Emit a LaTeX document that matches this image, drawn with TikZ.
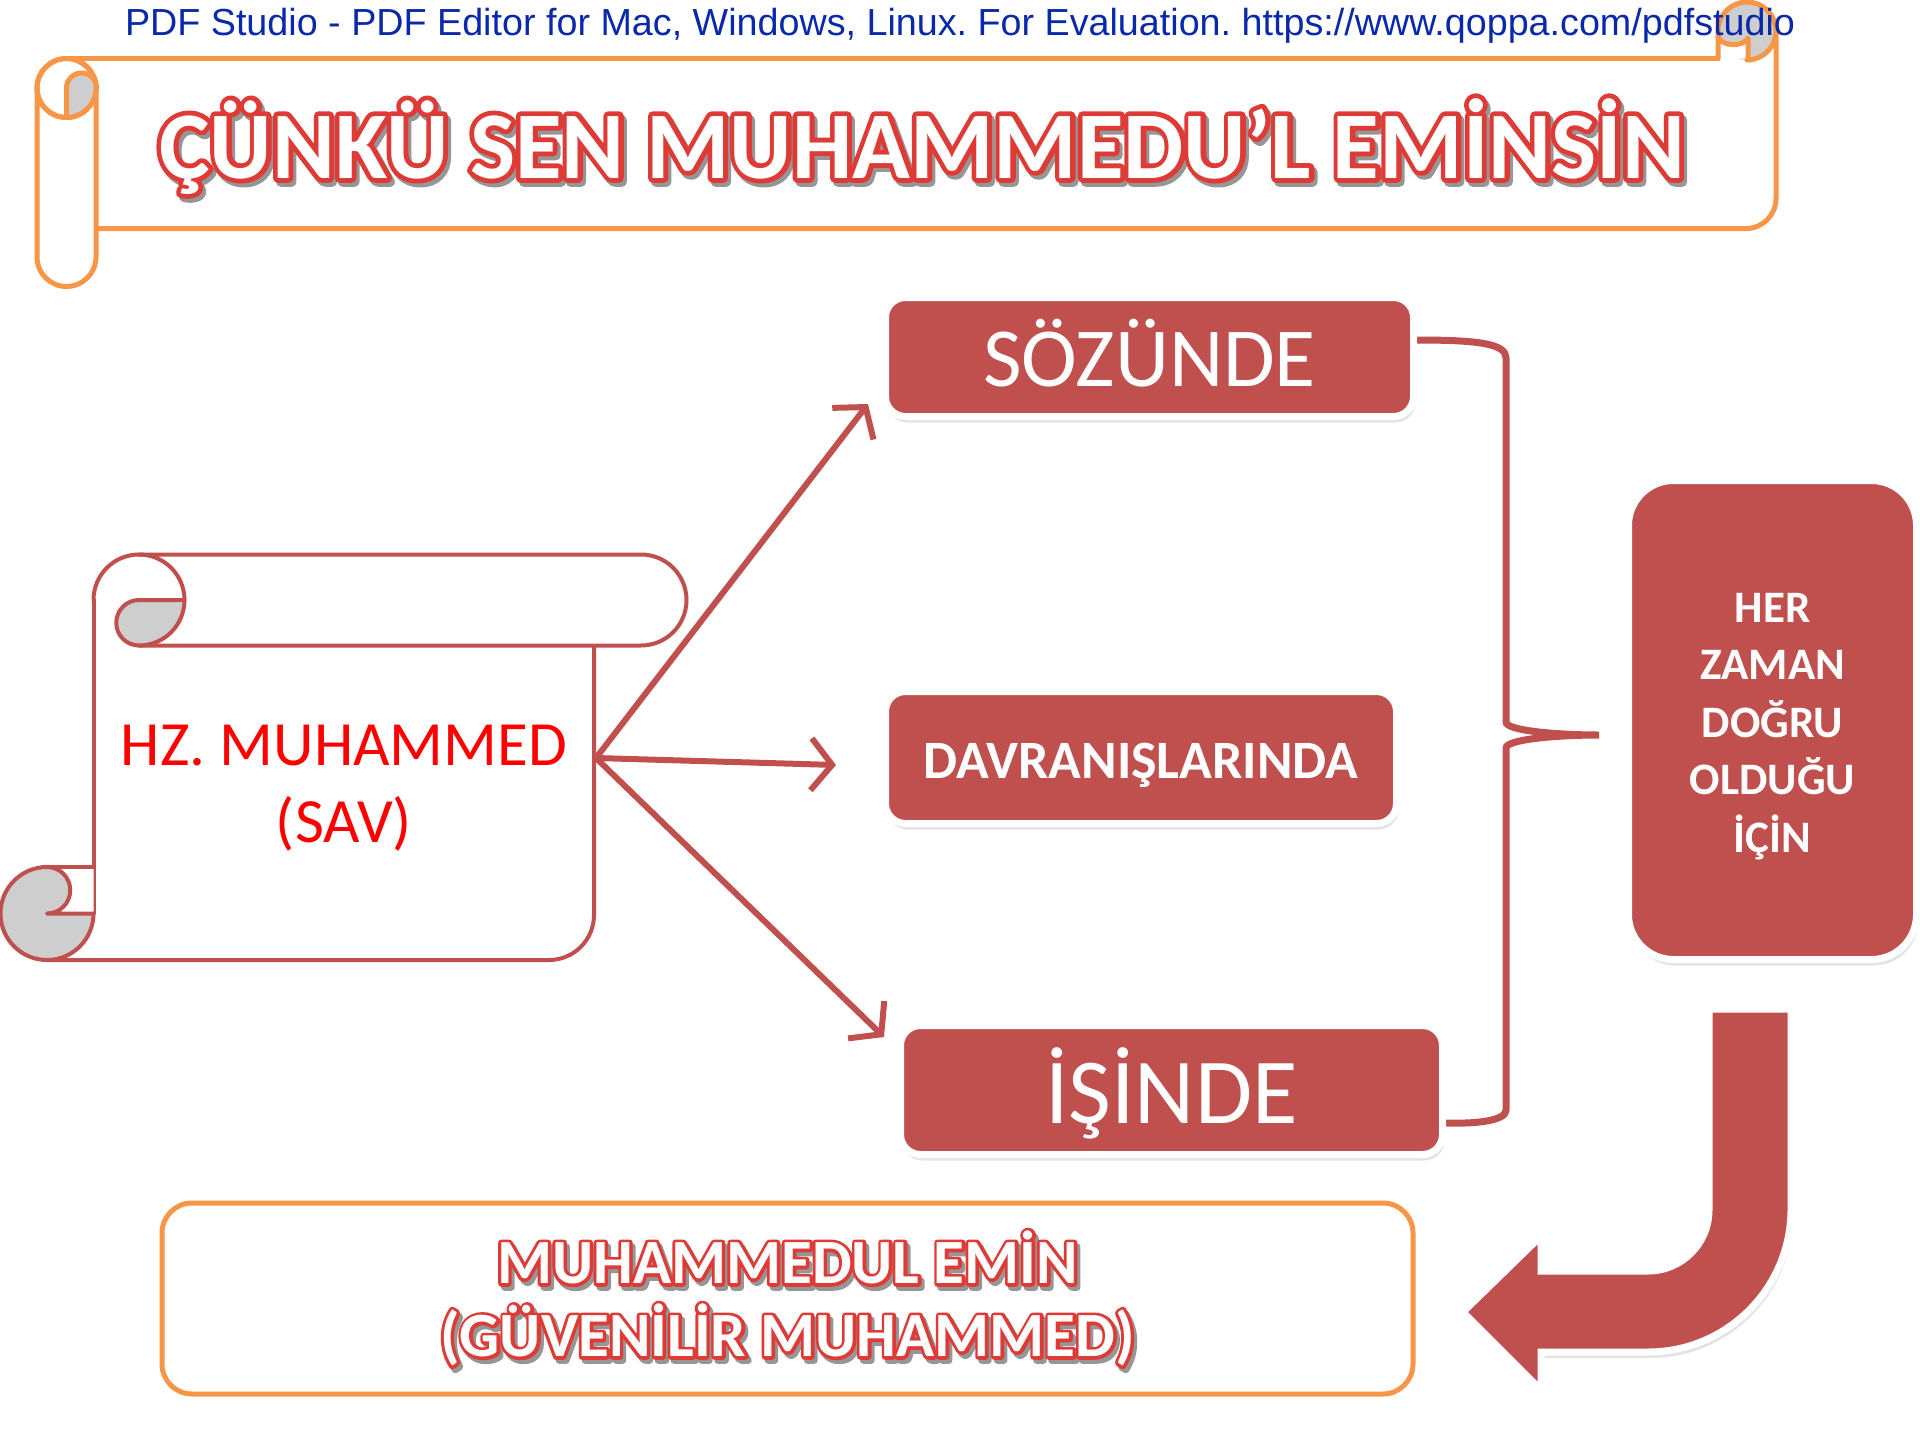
\documentclass[tikz,border=0pt]{standalone}
\usepackage{fontspec}
\setmainfont{Carlito}
\newfontfamily\wmfont{Liberation Sans}
\newfontfamily\cbfont{Carlito Bold}
\newfontfamily\cbfat{Carlito Bold}[FakeBold=10]
\usetikzlibrary{arrows.meta,shadows,calc}
\definecolor{boxred}{RGB}{192,80,77}
\definecolor{orangeline}{RGB}{247,150,70}
\definecolor{curlgrey}{RGB}{206,206,206}
\definecolor{olred}{RGB}{222,58,54}
\definecolor{tshadow}{RGB}{150,150,150}
\definecolor{wmblue}{RGB}{10,40,170}
\definecolor{hzred}{RGB}{255,0,0}
\newcommand{\olt}[1]{\leavevmode\rlap{\kern3pt\raisebox{-4pt}[0pt][0pt]{\color{tshadow}\cbfat #1}}\rlap{\color{olred}\cbfat #1}{\color{white}\cbfont #1}}
\pgfdeclarelayer{bg}
\pgfsetlayers{bg,main}
\frenchspacing
\begin{document}
\begin{tikzpicture}[x=1pt,y=-1pt, line join=round, line cap=round,
  scrollred/.style={draw=boxred, line width=4pt},
  scrollor/.style={draw=orangeline, line width=5pt},
  redbox/.style={fill=boxred, draw=white, line width=7pt, text=white, inner sep=0pt,
    drop shadow={opacity=0.22, shadow xshift=2pt, shadow yshift=-6pt}},
  link/.style={draw=boxred, line width=6pt, -{Straight Barb[length=21pt,width=52pt]}},
  brace/.style={draw=boxred, line width=7pt}]
\useasboundingbox (0,0) rectangle (1920,1440);

% ---------- title banner ----------
\draw[scrollor] (66.5,58.5) -- (1718,58.5);
\draw[scrollor] (96.5,228.5) -- (1746,228.5) arc[start angle=90, end angle=0, radius=30] -- (1776,31);
\draw[scrollor, fill=white] (37,88) -- (37,257) arc[start angle=180, end angle=0, radius=29.5] -- (96,88);
\draw[scrollor, fill=white] (66.5,88) circle[radius=29.5];
\fill[curlgrey] (66.5,117.5) -- (66.5,88) arc[start angle=180, end angle=360, radius=15] arc[start angle=0, end angle=90, radius=29.5] -- cycle;
\draw[scrollor] (66.5,117.5) -- (66.5,88) arc[start angle=180, end angle=360, radius=15];
\draw[scrollor] (66.5,88) circle[radius=29.5];
% top-right curl
\fill[curlgrey] (1747,31) circle[radius=29];
\fill[white] (1718,37) .. controls (1722,47) and (1744,47) .. (1748,38) -- (1748,58.5) -- (1718,58.5) -- cycle;
\draw[scrollor] (1718,58.5) -- (1718,31) arc[start angle=180, end angle=450, radius=29];
\draw[scrollor] (1718,37) .. controls (1722,47) and (1744,47) .. (1748,38) -- (1748,58.5);

\node[font=\fontsize{95.5}{100}\selectfont, anchor=base, inner sep=0pt] (title) at (922,178)
  {\olt{ÇÜNKÜ SEN MUHAMMEDU’L EMİNSİN}};

% ---------- left scroll ----------
\draw[scrollred] (93.5,600) -- (93.5,913.5);
\draw[scrollred] (47,960) -- (549,960) arc[start angle=90, end angle=0, radius=45] -- (594,646);
\draw[scrollred] (139,554.5) -- (641,554.5) arc[start angle=-90, end angle=90, radius=45.5] -- (139,645.5);
\fill[curlgrey] (139,600) -- (184.5,600) arc[start angle=0, end angle=90, radius=45.5] arc[start angle=90, end angle=270, radius=22.75] -- cycle;
\draw[scrollred] (93.5,600) arc[start angle=180, end angle=450, radius=45.5];
\draw[scrollred] (184.5,600) -- (139,600) arc[start angle=270, end angle=90, radius=22.75];
\fill[curlgrey] (47,913.5) circle[radius=46.5];
\fill[white] (47,867) -- (93.5,867) -- (93.5,913.5) -- (47,913.5) arc[start angle=90, end angle=-90, radius=23.25] -- cycle;
\draw[scrollred] (47,867) arc[start angle=-90, end angle=-360, radius=46.5];
\draw[scrollred] (47,867) -- (93.5,867);
\draw[scrollred] (93.5,913.5) -- (47,913.5) arc[start angle=90, end angle=-90, radius=23.25];

\node[font=\fontsize{63}{77}\selectfont, text=hzred, align=center, inner sep=0pt] (hz) at (344,788)
  {HZ. MUHAMMED\\(SAV)};

% ---------- boxes ----------
\node[redbox, rounded corners=20pt, minimum width=528pt, minimum height=119pt,
  font=\fontsize{84}{90}\selectfont, text height=58pt, text depth=0pt] (soz) at (1149.5,357) {SÖZÜNDE};
\node[redbox, rounded corners=20pt, minimum width=511pt, minimum height=132pt,
  font=\fontsize{54}{60}\selectfont\bfseries, text height=41pt, text depth=0pt] (dav) at (1141,757.5) {DAVRANIŞLARINDA};
\node[redbox, rounded corners=45pt, minimum width=542pt, minimum height=129pt,
  font=\fontsize{93}{100}\selectfont, text height=66pt, text depth=0pt, rounded corners=20pt] (isi) at (1171.5,1090) {İŞİNDE};
\node[redbox, rounded corners=45pt, minimum width=288pt, minimum height=479pt,
  font=\fontsize{45}{57.5}\selectfont\bfseries, align=center] (her) at (1772.5,720)
  {\rule{0pt}{42pt}HER\\ZAMAN\\DOĞRU\\OLDUĞU\\İÇİN};

% ---------- arrows ----------
\coordinate (src) at (596,758);
\coordinate (t1) at (868,404);
\coordinate (t2) at (836,765);
\coordinate (t3) at (884,1037);
\draw[link] (src) -- (t1);
\draw[link] (src) -- (t2);
\draw[link] (src) -- (t3);

% ---------- brace ----------
\coordinate (tip) at (1599,735);
\begin{pgfonlayer}{bg}
\draw[brace] ($(soz.east)+(0,-17)$) .. controls (1480,340) and (1506,344) .. (1506,358)
  -- (1506,722) .. controls (1506,731) and (1560,735) .. (tip)
  .. controls (1560,735) and (1506,739) .. (1506,748)
  -- (1506,1110) .. controls (1506,1120) and (1480,1124) .. ($(isi.east)+(0,33)$);
\end{pgfonlayer}

% ---------- U-turn arrow ----------
\path[fill=boxred, draw=white, line width=7pt, line join=miter,
  drop shadow={opacity=0.22, shadow xshift=2pt, shadow yshift=-6pt}]
  (1709,1009) -- (1709,1210) arc[start angle=0, end angle=90, radius=61]
  -- (1541,1271) -- (1541,1236) -- (1463,1312) -- (1541,1390) -- (1541,1352)
  -- (1648,1352) arc[start angle=90, end angle=0, radius=143] -- (1791,1009) -- cycle;

% ---------- bottom box ----------
\node[draw=orangeline, line width=5pt, rounded corners=30pt, minimum width=1251pt, minimum height=191pt,
  font=\fontsize{63}{73}\selectfont, align=center, inner sep=0pt] (emin) at (787.5,1298.5)
  {\olt{MUHAMMEDUL EMİN}\\\olt{(GÜVENİLİR MUHAMMED)}};

% ---------- watermark ----------
\node[font=\fontsize{37.7}{44}\selectfont\wmfont, text=wmblue, anchor=base, inner sep=0pt] (wm) at (960,35)
  {PDF Studio - PDF Editor for Mac, Windows, Linux. For Evaluation. https://www.qoppa.com/pdfstudio};
\end{tikzpicture}
\end{document}
